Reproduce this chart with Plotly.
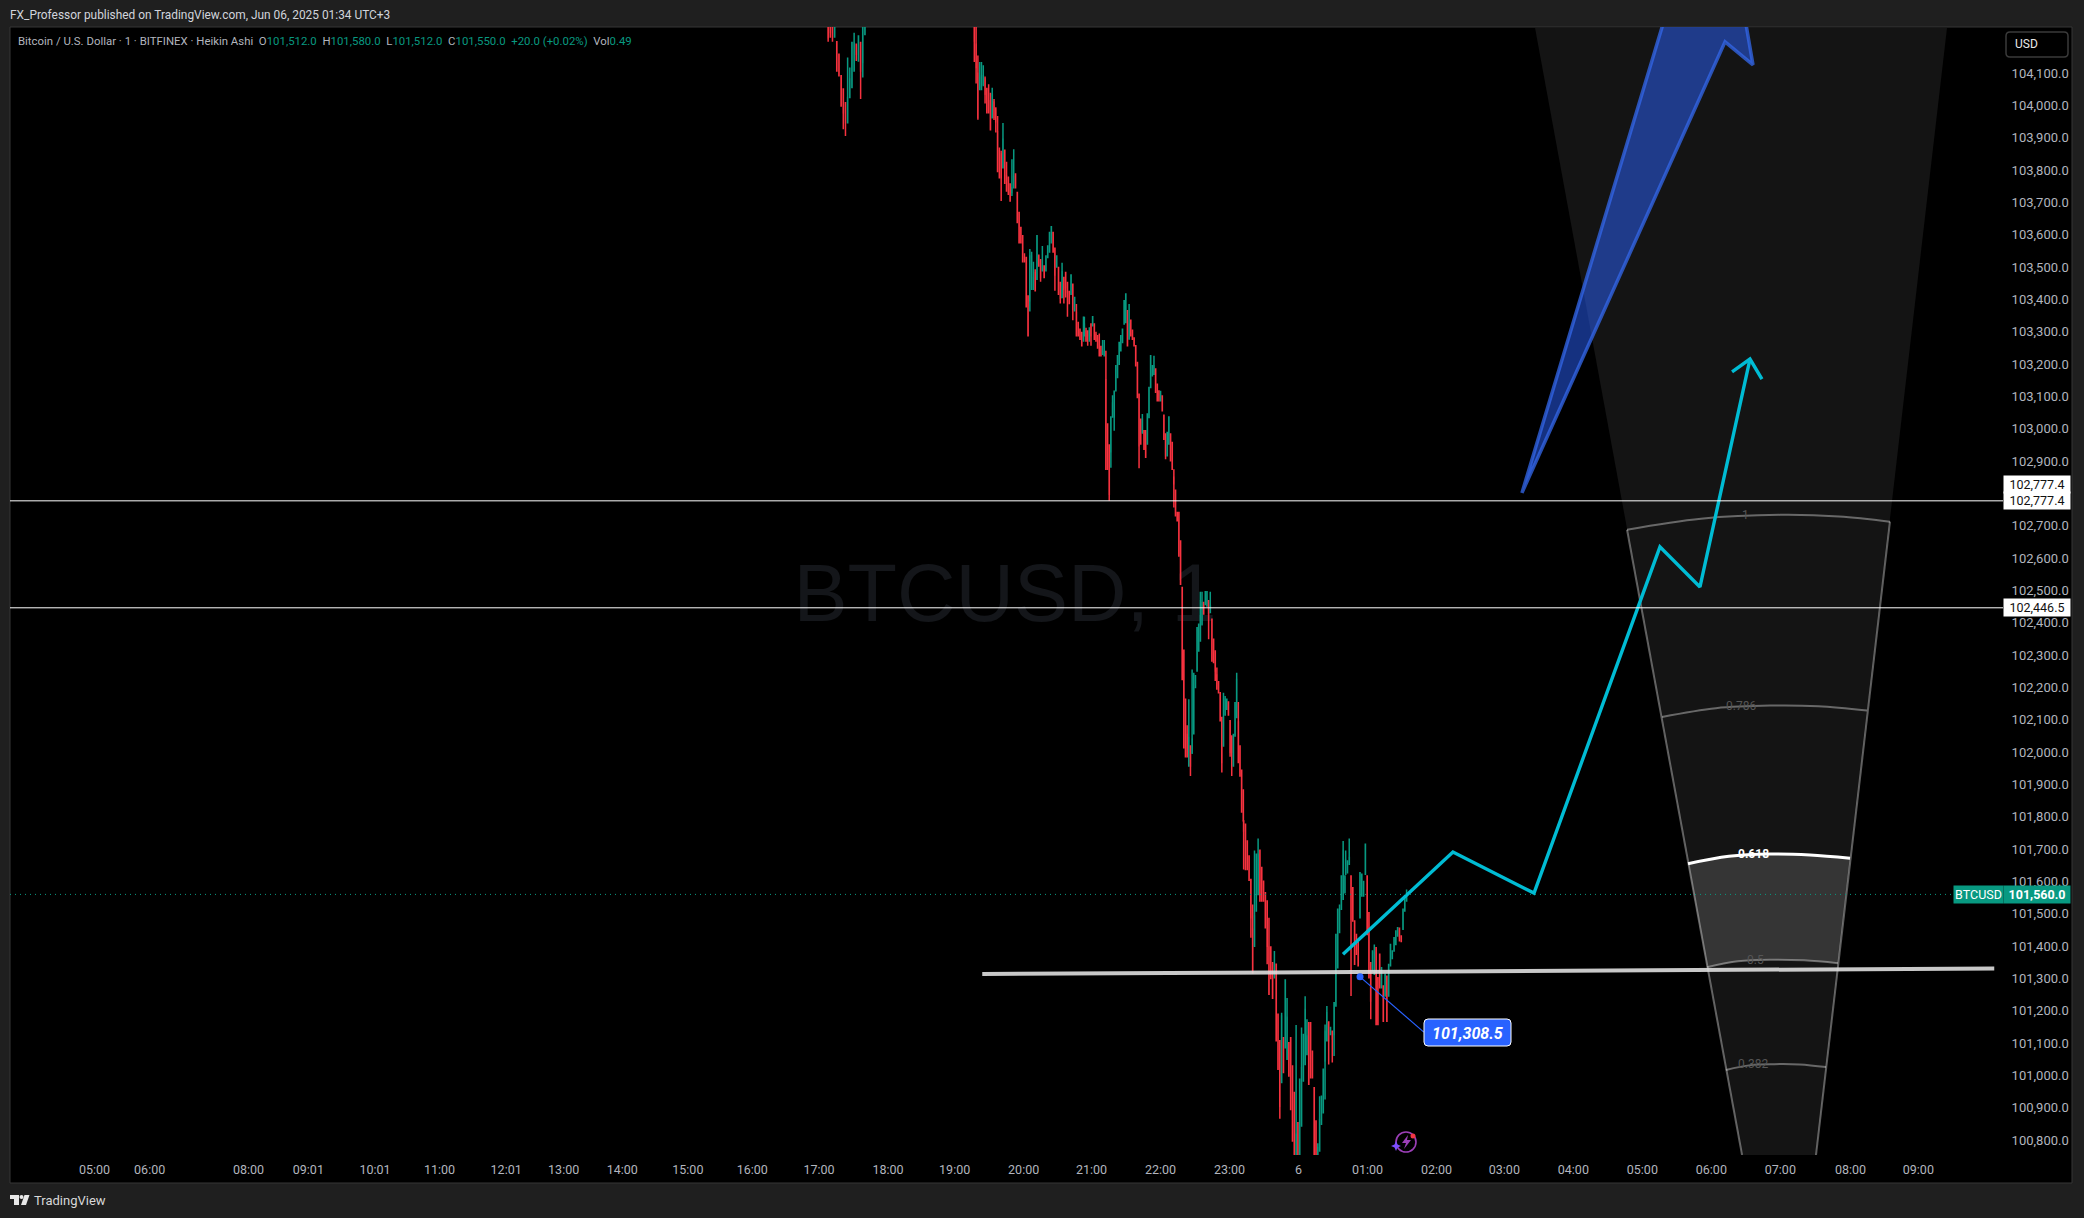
import numpy as np
import plotly.graph_objects as go

# ---------- candles: (open, high, low, close) ----------
hump_start, hump_end = -409, -377
hump = [
(104300,104300,104197,104210),(104300,104300,104210,104226),(104300,104300,104197,104212),
(104212,104300,104212,104300),(104197,104197,104107,104107),(104159,104159,104092,104092),
(104092,104092,103999,103999),(104051,104051,103927,103978),(104009,104009,103906,103947),
(103947,104149,103947,104025),(104025,104118,104025,104082),(104056,104195,104056,104195),
(104107,104225,104107,104195),(104190,104190,104138,104159),(104138,104215,104138,104215),
(104195,104195,104020,104107),(104133,104300,104087,104300),(104220,104300,104220,104300),
]
drop_start, drop_end = -281.9, -186.9
drop = [
(104300,104300,104135,104200),(104190,104300,104068,104118),(104100,104155,103956,103963),
(104050,104135,104048,104087),(104050,104135,104050,104092),(104066,104125,104060,104092),
(104082,104090,104006,104035),(104051,104055,103978,103978),(104015,104066,103978,103978),
(104015,104040,103925,103925),(103963,104055,103960,104035),(104011,104020,103955,103963),
(103989,103995,103917,103950),(103919,103968,103795,103796),(103860,103870,103777,103777),
(103850,103860,103705,103777),(103808,103946,103808,103896),(103862,103862,103757,103760),
(103783,103826,103736,103736),(103778,103778,103726,103726),(103757,103757,103705,103705),
(103731,103834,103720,103746),(103746,103865,103746,103780),(103788,103788,103746,103746),
(103731,103731,103638,103638),(103669,103669,103576,103576),(103623,103623,103576,103576),
(103597,103597,103517,103517),(103530,103543,103517,103517),(103530,103530,103378,103378),
(103411,103411,103288,103288),(103396,103556,103363,103535),(103432,103548,103430,103535),
(103432,103517,103432,103468),(103484,103494,103427,103427),(103463,103597,103463,103597),
(103537,103537,103504,103504),(103523,103523,103455,103468),(103489,103566,103489,103504),
(103504,103504,103468,103468),(103489,103535,103489,103535),(103530,103566,103530,103566),
(103547,103607,103547,103607),(103576,103625,103576,103625),(103607,103607,103547,103547),
(103559,103559,103427,103476),(103501,103535,103501,103535),(103499,103499,103416,103416),
(103453,103453,103388,103404),(103406,103514,103406,103486),(103468,103468,103388,103432),
(103484,103484,103406,103437),(103453,103453,103347,103422),(103425,103425,103388,103388),
(103416,103476,103416,103476),(103447,103447,103336,103370),(103365,103406,103365,103406),
(103360,103386,103288,103288),(103329,103329,103288,103288),(103308,103308,103277,103277),
(103298,103298,103257,103257),(103272,103345,103272,103345),
]
ledge_start, ledge_end = -186.2, -105.5
ledge = [
(103288,103347,103288,103324),(103303,103313,103272,103272),(103303,103303,103257,103288),
(103272,103314,103272,103303),(103324,103324,103257,103288),(103319,103347,103319,103347),
(103324,103324,103277,103277),(103292,103300,103272,103272),(103280,103290,103250,103250),
(103272,103295,103226,103226),(103255,103255,103226,103226),
(103231,103275,103231,103240),(103226,103275,103226,103240),(103152,103242,102875,102875),
(103015,103015,102875,102875),(102950,102950,102778,102798),(102929,103037,102880,103037),
(103037,103104,103037,103080),(103037,103116,102994,103116),(103118,103195,103118,103195),
(103159,103226,103159,103226),(103200,103267,103200,103267),(103242,103288,103242,103288),
(103267,103308,103267,103308),(103324,103396,103324,103396),(103329,103417,103329,103417),
(103334,103368,103257,103257),(103278,103386,103278,103324),(103336,103336,103288,103288),
(103305,103305,103277,103277),(103281,103281,103257,103257),(103257,103257,103195,103195),
(103205,103205,103097,103097),(103107,103107,102878,102948),(103030,103030,102953,102953),
(102989,103046,102985,103030),(102994,102994,102937,102937),(102994,102994,102912,102912),
(102953,103046,102953,103046),(103035,103128,103035,103128),(103128,103226,103128,103226),
(103164,103195,103164,103195),(103169,103226,103169,103195),(103185,103185,103113,103113),
(103138,103138,103087,103087),(103117,103117,103087,103087),(103087,103118,103087,103104),
(103102,103102,103056,103056),(103042,103042,102968,102968),(102984,102984,102906,102917),
(102917,102989,102917,102989),(102953,103037,102953,103037),(102984,102984,102901,102901),
(102958,102958,102875,102875),(102850,102875,102757,102830),(102810,102810,102731,102731),
(102741,102741,102716,102716),
]
bounce_start, bounce_end = -104, -48
bounce = [
(102741,102741,102607,102607),
(102653,102653,102519,102519),(102509,102509,102225,102225),(102315,102315,102014,102014),
(102164,102164,101986,101986),(102055,102083,101986,101986),(101957,102164,101957,102045),
(102019,102019,101926,101957),(102000,102256,101994,102040),(102057,102246,102057,102200),
(102200,102236,102200,102236),(102251,102385,102251,102385),(102313,102396,102313,102396),
(102344,102496,102344,102468),(102396,102496,102392,102463),(102463,102463,102427,102427),
(102457,102496,102457,102496),(102452,102496,102452,102496),(102468,102468,102349,102429),
(102432,102496,102432,102452),(102411,102411,102282,102282),(102349,102349,102277,102277),
(102313,102313,102220,102251),(102239,102262,102195,102195),(102218,102218,102184,102184),
(102184,102184,102097,102097),(102107,102107,101937,101968),(102019,102184,102019,102107),
(102115,102174,102115,102164),(102133,102164,102133,102164),(102155,102155,102115,102115),
(102097,102097,101986,101999),(102050,102050,101926,101999),(101957,102055,101957,102055),
(102050,102153,102050,102153),(102107,102246,102107,102225),(102093,102155,101968,101968),
(102019,102019,101926,101926),(101944,101944,101815,101815),(101883,101883,101788,101788),
]
floor_start, floor_end = -47.7, 40.4
floor = [
(101787,101787,101637,101756),(101777,101777,101637,101637),(101725,101725,101637,101637),
(101679,101679,101604,101604),(101606,101606,101426,101488),(101452,101529,101318,101318),
(101400,101696,101400,101493),(101509,101684,101509,101684),(101560,101733,101560,101684),
(101697,101697,101540,101540),(101643,101643,101540,101540),(101601,101601,101540,101540),
(101565,101565,101457,101457),(101540,101540,101344,101400),(101397,101488,101251,101251),
(101397,101397,101300,101300),(101349,101349,101239,101239),(101302,101385,101302,101323),
(101344,101344,101107,101107),(101189,101189,101019,101019),(101107,101107,100866,100905),
(100978,101194,100978,101184),(101117,101117,101009,101009),(101086,101295,101086,101295),
(101050,101240,101050,101180),(101101,101101,100998,100998),(101117,101117,100895,100895),
(101029,101029,100797,100797),(100947,100947,100700,100700),(100700,101156,100700,100818),
(100854,100854,100700,100700),(100700,100988,100700,100988),(100844,101148,100844,101024),
(100983,101127,100983,101127),(101034,101245,101034,101204),(101065,101174,101065,101122),
(101163,101163,100973,100973),(101163,101163,100993,100993),(101075,101075,100993,100993),
(100962,100962,100700,100700),(100859,100859,100700,100700),(100700,100790,100700,100777),
(100766,100936,100766,100864),(100849,100936,100849,100936),(100885,101019,100885,101019),
(101045,101158,100926,101137),(101107,101215,101107,101194),(101165,101165,101034,101107),
(101127,101148,101127,101148),(101137,101137,101040,101112),(101127,101225,101060,101225),
(101215,101436,101215,101436),(101333,101514,101333,101514),(101442,101529,101442,101514),
(101514,101617,101514,101617),(101545,101725,101545,101696),(101565,101617,101565,101617),
]
last_start, last_end = 41, 94
last = [
(101622,101696,101622,101668),(101627,101663,101627,101663),(101653,101733,101653,101674),
(101617,101617,101246,101483),(101581,101581,101478,101478),(101478,101478,101344,101344),
(101436,101436,101375,101375),(101411,101411,101339,101339),(101488,101627,101488,101627),
(101555,101622,101555,101622),(101555,101600,101555,101600),(101622,101715,101622,101715),
(101617,101617,101436,101436),(101503,101503,101302,101302),(101349,101349,101174,101230),
(101323,101385,101323,101385),(101313,101405,101313,101380),(101395,101395,101158,101158),
(101302,101302,101158,101158),(101375,101375,101271,101271),(101271,101333,101271,101333),
(101277,101277,101168,101168),(101246,101313,101246,101313),(101307,101307,101168,101168),
(101246,101343,101246,101343),(101339,101405,101339,101405),(101362,101385,101362,101385),
(101385,101426,101385,101426),(101405,101447,101405,101447),(101431,101457,101431,101457),
(101455,101455,101414,101426),(101431,101431,101414,101414),(101452,101514,101452,101514),
(101509,101555,101509,101555),(101540,101575,101540,101560),
]

# ---------- time axis ----------
time_labels = ["05:00","06:00","08:00","09:01","10:01","11:00","12:01","13:00","14:00","15:00","16:00","17:00",
               "18:00","19:00","20:00","21:00","22:00","23:00","6","01:00","02:00","03:00","04:00","05:00",
               "06:00","07:00","08:00","09:00"]
time_bars = [-1047,-999,-913,-861,-803,-747,-689,-639,-588,-531,-475,-417,-357,-299,-239,-180,-120,-60,
             0,60,120,179,239,299,359,419,480,539]
price_ticks = list(range(100800, 104200, 100))

# ---------- levels and drawings ----------
level_a, level_b, last_price = 102777.4, 102446.5, 101560.0
trend_x, trend_y = [-275, 605], [101314, 101331]
path_x, path_y = [38.7,134.3,204.8,314.3,349.1,392.6], [101375,101691,101564,102635,102511,103216]
head_x, head_y = [377,392.6,403], [103176,103216,103154]
blue_x, blue_y = [194.3,333.5,379.6,395.2,370.9,194.3], [102802,104448,104448,104126,104197,102802]
note_x, note_y = [53.5,109], [101305,101134]
note_value = "101,308.5"

wedge_x, wedge_y = [205.7,385.7,450,563.9], [104240,100754,100754,104240]
side_l_x, side_l_y = [285.7,385.7], [102688,100754]
side_r_x, side_r_y = [514.3,450], [102713,100754]
arcs = {
 "1":     ([285.7,350,418.7,470,514.3],[102688,102722,102734,102729,102713]),
 "0.786": ([316.1,363,410,452,494.3],[102109,102136,102144,102142,102129]),
 "0.618": ([338.7,374.3,410,444.8,479.6],[101655,101678,101685,101682,101672]),
 "0.5":   ([355.2,382.2,410,439.6,469.1],[101335,101353,101358,101356,101347]),
 "0.382": ([371.7,393,414,436,458.7],[101017,101032,101035,101034,101026]),
}
arc_label_x = {"1":389,"0.786":385,"0.618":396,"0.5":397,"0.382":395}

HEADER = "FX_Professor published on TradingView.com, Jun 06, 2025 01:34 UTC+3"
G, R = "#089981", "#f7323f"
LEGEND = ("Bitcoin / U.S. Dollar · 1 · BITFINEX · Heikin Ashi  O<span style='color:%s'>101,512.0</span>  "
          "H<span style='color:%s'>101,580.0</span>  L<span style='color:%s'>101,512.0</span>  "
          "C<span style='color:%s'>101,550.0  +20.0 (+0.02%%)</span>  Vol<span style='color:%s'>0.49</span>") % (G,G,G,G,G)

# ---------- assemble ----------
segments = [(hump,hump_start,hump_end),(drop,drop_start,drop_end),(ledge,ledge_start,ledge_end),
            (bounce,bounce_start,bounce_end),(floor,floor_start,floor_end),(last,last_start,last_end)]
xs, rows = [], []
for seg, a, b in segments:
    xs.extend(np.linspace(a, b, len(seg)).tolist())
    rows.extend(seg)
opens, highs, lows, closes = map(list, zip(*rows))

PW, PH = 2084, 1218
L, T, RGT, BOT = 10, 27, 2003, 1155
px = lambda v: (v - L) / (RGT - L)
py = lambda v: 1 - (v - T) / (BOT - T)
FONT = "Roboto, sans-serif"
GREY = "#b2b5be"

fig = go.Figure()
def line(x, y, color, w, shape="linear"):
    fig.add_trace(go.Scatter(x=x, y=y, mode="lines", line=dict(color=color, width=w, shape=shape),
                             hoverinfo="skip", showlegend=False))

# wedge backgrounds
fig.add_trace(go.Scatter(x=wedge_x+wedge_x[:1], y=wedge_y+wedge_y[:1], mode="lines", fill="toself",
                         fillcolor="rgba(255,255,255,0.08)", line=dict(width=0), hoverinfo="skip", showlegend=False))
bx = arcs["0.618"][0] + arcs["0.5"][0][::-1]
by = arcs["0.618"][1] + arcs["0.5"][1][::-1]
fig.add_trace(go.Scatter(x=bx, y=by, mode="lines", fill="toself", fillcolor="rgba(255,255,255,0.14)",
                         line=dict(width=0), hoverinfo="skip", showlegend=False))
ARC = "rgba(255,255,255,0.36)"
line(side_l_x, side_l_y, ARC, 2)
line(side_r_x, side_r_y, ARC, 2)
for k, (ax, ay) in arcs.items():
    if k == "0.618":
        line(ax, ay, "#ffffff", 3, shape="spline")
    else:
        line(ax, ay, ARC, 2, shape="spline")

# candles
fig.add_trace(go.Candlestick(x=xs, open=opens, high=highs, low=lows, close=closes, whiskerwidth=0,
    increasing=dict(line=dict(color=G, width=1.5), fillcolor=G),
    decreasing=dict(line=dict(color=R, width=1.5), fillcolor=R),
    hoverinfo="skip", showlegend=False))

# levels
for lv in (level_a, level_b):
    fig.add_hline(y=lv, line=dict(color="#ffffff", width=1))
fig.add_hline(y=last_price, line=dict(color=G, width=1, dash="1px,4px"))
line(trend_x, trend_y, "rgba(222,222,222,0.9)", 4)

# blue arrow
fig.add_trace(go.Scatter(x=blue_x, y=blue_y, mode="lines", fill="toself", fillcolor="rgba(41,98,255,0.5)",
                         line=dict(color="rgba(52,104,235,0.75)", width=3.5), hoverinfo="skip", showlegend=False))
# cyan path
line(path_x, path_y, "#00bcd4", 3.4)
line(head_x, head_y, "#00bcd4", 3.4)
# note connector
line(note_x, note_y, "#2962ff", 1.2)
fig.add_trace(go.Scatter(x=note_x[:1], y=note_y[:1], mode="markers", marker=dict(color="#2962ff", size=7),
                         hoverinfo="skip", showlegend=False))

def rrect(x0, y0, x1, y1, r, **kw):
    path = (f"M {px(x0+r)} {py(y0)} L {px(x1-r)} {py(y0)} Q {px(x1)} {py(y0)} {px(x1)} {py(y0+r)} "
            f"L {px(x1)} {py(y1-r)} Q {px(x1)} {py(y1)} {px(x1-r)} {py(y1)} L {px(x0+r)} {py(y1)} "
            f"Q {px(x0)} {py(y1)} {px(x0)} {py(y1-r)} L {px(x0)} {py(y0+r)} Q {px(x0)} {py(y0)} {px(x0+r)} {py(y0)} Z")
    return dict(type="path", xref="paper", yref="paper", path=path, **kw)

def poly(pts, **kw):
    path = "M " + " L ".join(f"{px(a)} {py(b)}" for a, b in pts) + " Z"
    return dict(type="path", xref="paper", yref="paper", path=path, **kw)

shapes = [
    dict(type="rect", xref="paper", yref="paper", x0=px(10), x1=px(2072), y0=py(27), y1=py(1183),
         fillcolor="#000000", line=dict(color="#363636", width=1), layer="below"),
    dict(type="rect", xref="paper", yref="paper", x0=px(795), x1=px(1215), y0=py(554), y1=py(616),
         line=dict(width=0), fillcolor="rgba(0,0,0,0)", layer="below",
         label=dict(text="BTCUSD, 1", textposition="middle center",
                    font=dict(family="Liberation Sans, Arial", size=81, color="#14161a"))),
    rrect(2006, 32, 2068, 57, 4, fillcolor="#000000", line=dict(color="#3a3a3a", width=1.5)),
    rrect(1424, 1019, 1511, 1046, 4, fillcolor="#2962ff", line=dict(color="#ffffff", width=1)),
    # lightning badge
    dict(type="circle", xref="paper", yref="paper", x0=px(1396), x1=px(1416), y0=py(1132), y1=py(1152),
         line=dict(color="#9c3fb8", width=1.6), fillcolor="rgba(0,0,0,0)"),
    poly([(1408,1135),(1402,1143),(1406,1143),(1404,1149),(1411,1140),(1407,1140)], fillcolor="#9c3fb8", line=dict(width=0)),
    poly([(1396,1141),(1397.5,1144.5),(1401,1146),(1397.5,1147.5),(1396,1151),(1394.5,1147.5),(1391,1146),(1394.5,1144.5)],
         fillcolor="#7c4dff", line=dict(width=0)),
    dict(type="circle", xref="paper", yref="paper", x0=px(1410.5), x1=px(1415.5), y0=py(1133.5), y1=py(1138.5),
         fillcolor="#f23645", line=dict(width=0)),
    # footer logo
    poly([(10,1195),(19,1195),(19,1205),(14,1205),(14,1199),(10,1199)], fillcolor="#e8e8e8", line=dict(width=0)),
    dict(type="circle", xref="paper", yref="paper", x0=px(19.5), x1=px(23.5), y0=py(1195), y1=py(1199),
         fillcolor="#e8e8e8", line=dict(width=0)),
    poly([(24.5,1195),(29.5,1195),(26,1205),(21,1205)], fillcolor="#e8e8e8", line=dict(width=0)),
]
for s in shapes:
    fig.add_shape(**s)

def note(text, x, y, xanchor="left", size=12, color=GREY, **kw):
    fig.add_annotation(text=text, xref="paper", yref="paper", x=px(x), y=py(y), xanchor=xanchor, yanchor="middle",
                       showarrow=False, font=dict(family=FONT, size=size, color=color), borderpad=0, **kw)

note(HEADER, 9, 15, size=11.9, color="#d1d4dc")
note(LEGEND, 17, 41, size=11.4, color=GREY)
note("USD", 2014, 44, size=12, color="#e8e8e8")
note("TradingView", 33, 1200, size=13, color="#d8d8d8")
note("<i><b>" + note_value + "</b></i>", 1467.5, 1033, xanchor="center", size=16, color="#ffffff")

def label(text, y, bg, fg, x0=2003, w=66, bold=False):
    fig.add_annotation(text=("<b>%s</b>" % text) if bold else text, xref="paper", yref="y", x=px(x0), y=y,
                       xanchor="left", yanchor="middle", width=w, height=17, bgcolor=bg, align="center",
                       showarrow=False, borderpad=0, font=dict(family=FONT, size=12.5, color=fg))

fig.add_annotation(text="102,777.4", xref="paper", yref="paper", x=px(2003), y=py(484), xanchor="left",
                   yanchor="middle", width=66, height=17, bgcolor="#ffffff", align="center", showarrow=False,
                   borderpad=0, font=dict(family=FONT, size=12.5, color="#111111"))
label("102,777.4", level_a, "#ffffff", "#111111")
label("102,446.5", level_b, "#ffffff", "#111111")
label("101,560.0", last_price, G, "#ffffff", bold=True)
label("BTCUSD", last_price, G, "#ffffff", x0=1953, w=49)

for k, (ax, ay) in arcs.items():
    hi = k == "0.618"
    fig.add_annotation(text=("<b>%s</b>" % k) if hi else k, x=arc_label_x[k], y=max(ay), showarrow=False,
                       xanchor="center", yanchor="middle",
                       font=dict(family=FONT, size=12, color="#ffffff" if hi else "#555555"))

fig.update_layout(
    width=PW, height=PH, paper_bgcolor="#1f1f1f", plot_bgcolor="#000000",
    margin=dict(l=L, r=PW-RGT, t=T, b=PH-BOT, autoexpand=False),
    showlegend=False, hovermode=False, dragmode=False,
    xaxis=dict(range=[(L-1298.5)/1.15, (RGT-1298.5)/1.15], tickmode="array", tickvals=time_bars, ticktext=time_labels,
               showgrid=False, zeroline=False, showline=False, ticks="outside", ticklen=3, tickcolor="rgba(0,0,0,0)",
               tickfont=dict(family=FONT, size=12.5, color=GREY), rangeslider=dict(visible=False), tickangle=0),
    yaxis=dict(range=[100754, 104243], side="right", tickmode="array", tickvals=price_ticks,
               tickformat=",.1f", showgrid=False, zeroline=False, showline=False, ticks="outside", ticklen=5,
               tickcolor="rgba(0,0,0,0)", tickfont=dict(family=FONT, size=13, color=GREY)),
)
fig.write_html("out.html", config={"displayModeBar": False},
               post_script="document.body.style.margin='0';document.body.style.overflow='hidden';")
